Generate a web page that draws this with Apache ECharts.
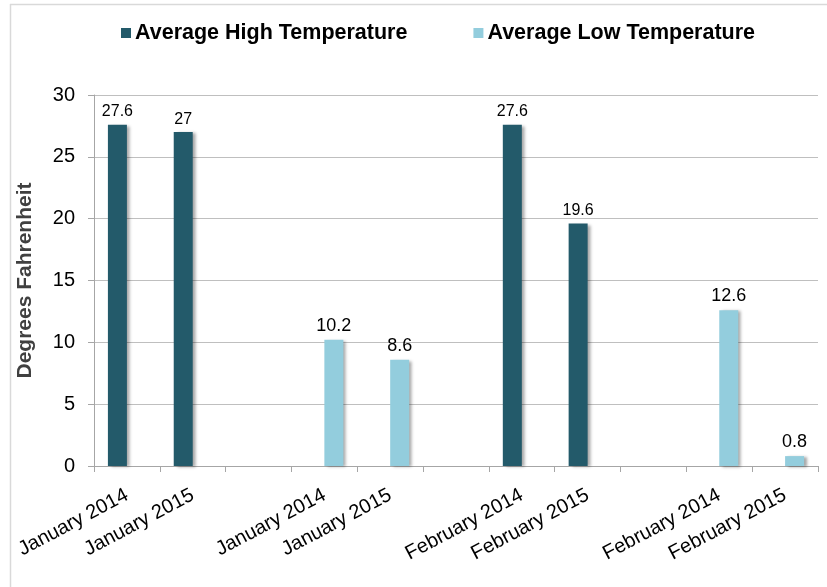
<!DOCTYPE html>
<html>
<head>
<meta charset="utf-8">
<script src="https://cdn.jsdelivr.net/npm/echarts@6/dist/echarts.min.js"></script>
<style>
html,body{margin:0;padding:0;background:#fff;}
#c{width:827px;height:587px;}
</style>
</head>
<body>
<div id="c"></div>
<script>
var categories = ['January 2014','January 2015','','January 2014','January 2015','','February 2014','February 2015','','February 2014','February 2015'];
var highTemps = [27.6, 27, null, null, null, null, 27.6, 19.6, null, null, null];
var lowTemps = [null, null, null, 10.2, 8.6, null, null, null, null, 12.6, 0.8];
var yTicks = {min: 0, max: 30, interval: 5};

var chart = echarts.init(document.getElementById('c'));
var FONT = 'Liberation Sans, Arial, Helvetica, sans-serif';
var shadow = {shadowColor:'rgba(0,0,0,0.35)', shadowBlur:3, shadowOffsetX:3, shadowOffsetY:1};
chart.setOption({
  animation: false,
  textStyle: {fontFamily: FONT},
  graphic: [
    {type:'line', shape:{x1:10,y1:4.5,x2:827,y2:4.5}, style:{stroke:'#d9d9d9', lineWidth:1.5}},
    {type:'line', shape:{x1:10.5,y1:4,x2:10.5,y2:587}, style:{stroke:'#d9d9d9', lineWidth:1.5}}
  ],
  legend: {
    left: 121, top: 22, padding: 0,
    itemWidth: 10, itemHeight: 10, itemGap: 66, icon: 'rect',
    textStyle: {fontFamily: FONT, fontSize: 21.5, fontWeight: 'bold', color: '#000', padding:[0,0,0,-1]},
    data: ['Average High Temperature','Average Low Temperature']
  },
  grid: {left: 94, right: 9, top: 95, bottom: 121},
  xAxis: {
    type: 'category',
    data: categories,
    axisLine: {lineStyle: {color: '#a6a6a6', width: 1}},
    axisTick: {show: true, length: 6, lineStyle: {color: '#a6a6a6'}, alignWithLabel: false, interval: 0},
    axisLabel: {interval: 0, rotate: 28, margin: 28, fontSize: 20, color: '#000', fontFamily: FONT}
  },
  yAxis: {
    type: 'value',
    min: yTicks.min, max: yTicks.max, interval: yTicks.interval,
    name: 'Degrees Fahrenheit',
    nameLocation: 'middle', nameGap: 58,
    nameTextStyle: {fontSize: 21, fontWeight: 'bold', color: '#404040', fontFamily: FONT},
    axisLine: {show: true, lineStyle: {color: '#a6a6a6'}},
    axisTick: {show: true, length: 6, lineStyle: {color: '#a6a6a6'}},
    axisLabel: {fontSize: 20, color: '#000', margin: 19, fontFamily: FONT},
    splitLine: {lineStyle: {color: '#bfbfbf', width: 1}}
  },
  series: [
    {
      name: 'Average High Temperature', type: 'bar', data: highTemps,
      barWidth: 19, barGap: '0%',
      itemStyle: Object.assign({color: '#235A6A'}, shadow),
      label: {show: true, position: 'top', distance: 5, fontSize: 16, color: '#000', fontFamily: FONT}
    },
    {
      name: 'Average Low Temperature', type: 'bar', data: lowTemps,
      barWidth: 19, barGap: '0%',
      itemStyle: Object.assign({color: '#93CDDD'}, shadow),
      label: {show: true, position: 'top', distance: 5, fontSize: 18, color: '#000', fontFamily: FONT}
    }
  ]
});
</script>
</body>
</html>
